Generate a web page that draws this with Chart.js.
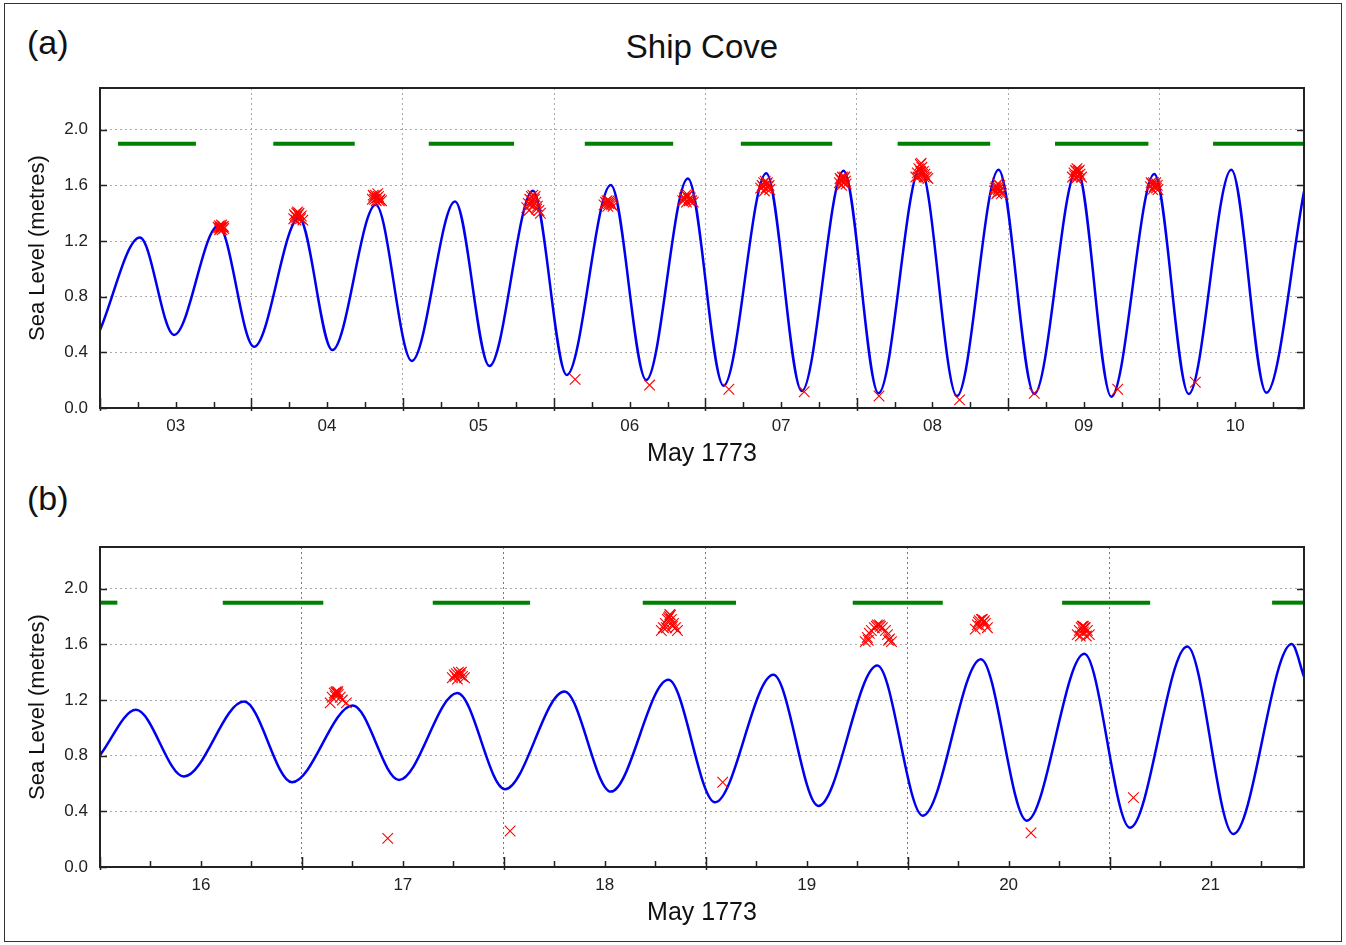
<!DOCTYPE html>
<html>
<head>
<meta charset="UTF-8">
<title>Ship Cove - sea level, May 1773</title>
<script src="https://cdn.jsdelivr.net/npm/chart.js"></script>
<style>
  body { margin: 0; background: #fff; font-family: "Liberation Sans", Arial, sans-serif; color: #111; }
  #page { position: relative; width: 1346px; height: 945px; overflow: hidden; }
  #border { position: absolute; left: 4px; top: 3px; width: 1338px; height: 939px; border: 1.5px solid #333; box-sizing: border-box; }
  .panel { position: absolute; left: 0; }
  .tag { position: absolute; left: 27px; font-size: 34px; line-height: 34px; }
  #title { position: absolute; left: 100px; width: 1204px; top: 30px; text-align: center; font-size: 33px; line-height: 33px; }
</style>
</head>
<body>
<div id="page">
  <div id="border"></div>
  <div class="tag" style="top:25px">(a)</div>
  <div id="title">Ship Cove</div>
  <canvas id="chartA" class="panel" width="1346" height="470" style="top:0"></canvas>
  <div class="tag" style="top:481px">(b)</div>
  <canvas id="chartB" class="panel" width="1346" height="470" style="top:459px"></canvas>
</div>

<script>
// --- panel (a): 3-10 May 1773 (x in days of May) ---
const dayLabelsA = ['03', '04', '05', '06', '07', '08', '09', '10'];
const rangeA = [3.0, 10.955];

// predicted tide: highs and lows
const tideA = [
  [3.000, 0.56], [3.264, 1.225], [3.489, 0.525], [3.782, 1.31], [4.018, 0.44],
  [4.315, 1.365], [4.535, 0.417], [4.822, 1.46], [5.060, 0.338], [5.346, 1.484],
  [5.573, 0.302], [5.860, 1.561], [6.084, 0.237], [6.375, 1.602], [6.609, 0.201],
  [6.884, 1.650], [7.120, 0.160], [7.402, 1.688], [7.637, 0.122], [7.913, 1.705],
  [8.144, 0.106], [8.420, 1.725], [8.662, 0.086], [8.937, 1.712], [9.173, 0.101],
  [9.455, 1.715], [9.682, 0.081], [9.966, 1.681], [10.193, 0.101], [10.475, 1.712],
  [10.706, 0.110], [10.955, 1.556]
];

// observed heights (red crosses)
const obsA = [
  [3.780, 1.30], [3.788, 1.31], [3.795, 1.29], [3.800, 1.30], [3.806, 1.28], [3.812, 1.30], [3.818, 1.29], [3.790, 1.28],
  [3.785, 1.295], [3.803, 1.315], [3.815, 1.305], [3.796, 1.30],
  [4.280, 1.36], [4.290, 1.38], [4.300, 1.40], [4.310, 1.39], [4.320, 1.37], [4.330, 1.38], [4.340, 1.35], [4.305, 1.41], [4.295, 1.35],
  [4.285, 1.39], [4.315, 1.40], [4.325, 1.36], [4.300, 1.37],
  [4.800, 1.50], [4.810, 1.52], [4.820, 1.53], [4.830, 1.51], [4.840, 1.52], [4.850, 1.50], [4.860, 1.49], [4.825, 1.49],
  [4.805, 1.53], [4.835, 1.54], [4.845, 1.49], [4.815, 1.50],
  [5.820, 1.44], [5.830, 1.47], [5.840, 1.50], [5.850, 1.52], [5.860, 1.53], [5.870, 1.50], [5.880, 1.48], [5.890, 1.45],
  [5.900, 1.42], [5.835, 1.42], [5.865, 1.46], [5.910, 1.40], [5.845, 1.46], [5.875, 1.52], [5.855, 1.49], [5.885, 1.43],
  [6.139, 0.206],
  [6.330, 1.46], [6.340, 1.48], [6.350, 1.49], [6.360, 1.47], [6.370, 1.48], [6.380, 1.46], [6.390, 1.45], [6.355, 1.45],
  [6.345, 1.47], [6.365, 1.49], [6.375, 1.47],
  [6.631, 0.165],
  [6.850, 1.49], [6.860, 1.51], [6.870, 1.53], [6.880, 1.52], [6.890, 1.50], [6.900, 1.51], [6.910, 1.49], [6.920, 1.48], [6.875, 1.48],
  [6.865, 1.50], [6.885, 1.53], [6.895, 1.49],
  [7.155, 0.135],
  [7.365, 1.58], [7.375, 1.60], [7.385, 1.62], [7.395, 1.63], [7.405, 1.61], [7.415, 1.59], [7.425, 1.57], [7.390, 1.56], [7.400, 1.58],
  [7.380, 1.59], [7.410, 1.62], [7.420, 1.60],
  [7.653, 0.117],
  [7.885, 1.62], [7.895, 1.64], [7.905, 1.66], [7.915, 1.65], [7.925, 1.63], [7.930, 1.61], [7.900, 1.60], [7.910, 1.62],
  [7.890, 1.65], [7.920, 1.66], [7.905, 1.63],
  [8.147, 0.086],
  [8.390, 1.66], [8.400, 1.69], [8.410, 1.72], [8.420, 1.75], [8.425, 1.76], [8.430, 1.73], [8.440, 1.70], [8.450, 1.68],
  [8.460, 1.66], [8.470, 1.65], [8.415, 1.67], [8.405, 1.66], [8.435, 1.68], [8.445, 1.66], [8.422, 1.70],
  [8.679, 0.058],
  [8.910, 1.56], [8.920, 1.59], [8.930, 1.61], [8.940, 1.58], [8.950, 1.56], [8.955, 1.54], [8.925, 1.54], [8.935, 1.57],
  [8.915, 1.58], [8.945, 1.60], [8.930, 1.55],
  [9.173, 0.106],
  [9.425, 1.66], [9.435, 1.69], [9.445, 1.71], [9.455, 1.72], [9.465, 1.70], [9.475, 1.68], [9.485, 1.66], [9.450, 1.65], [9.460, 1.67],
  [9.440, 1.67], [9.470, 1.71], [9.450, 1.70],
  [9.724, 0.135],
  [9.940, 1.59], [9.950, 1.61], [9.960, 1.62], [9.970, 1.60], [9.980, 1.58], [9.990, 1.57], [9.955, 1.57], [9.965, 1.59],
  [9.945, 1.62], [9.975, 1.62], [9.985, 1.60],
  [10.237, 0.185]
];

// green bars: start / end of each interval
const barsA = [
  [3.119, 3.634], [4.145, 4.683], [5.172, 5.736], [6.203, 6.787],
  [7.234, 7.838], [8.270, 8.882], [9.310, 9.927], [10.354, 10.955]
];

// --- panel (b): 16-21 May 1773 ---
const dayLabelsB = ['16', '17', '18', '19', '20', '21'];
const rangeB = [16.0, 21.963];

const tideB = [
  [16.000, 0.804], [16.178, 1.13], [16.416, 0.65], [16.713, 1.189], [16.951, 0.609],
  [17.252, 1.16], [17.481, 0.626], [17.770, 1.25], [18.006, 0.559], [18.300, 1.261],
  [18.530, 0.542], [18.815, 1.345], [19.046, 0.465], [19.335, 1.381], [19.558, 0.439],
  [19.850, 1.448], [20.075, 0.369], [20.363, 1.494], [20.590, 0.333], [20.875, 1.532],
  [21.101, 0.283], [21.385, 1.585], [21.613, 0.237], [21.902, 1.602], [21.963, 1.369]
];

const obsB = [
  [17.140, 1.18], [17.150, 1.22], [17.160, 1.25], [17.170, 1.26], [17.175, 1.25], [17.180, 1.24], [17.190, 1.22], [17.220, 1.18], [17.165, 1.23],
  [17.168, 1.255], [17.178, 1.26], [17.200, 1.20],
  [17.425, 0.206],
  [17.745, 1.36], [17.755, 1.38], [17.765, 1.39], [17.775, 1.40], [17.785, 1.38], [17.795, 1.37], [17.805, 1.36], [17.770, 1.35],
  [17.760, 1.37], [17.780, 1.39], [17.790, 1.40],
  [18.031, 0.259],
  [18.780, 1.70], [18.790, 1.72], [18.800, 1.75], [18.810, 1.78], [18.820, 1.80], [18.825, 1.81], [18.830, 1.78], [18.840, 1.75],
  [18.850, 1.72], [18.860, 1.70], [18.815, 1.79], [18.822, 1.815], [18.835, 1.73], [18.805, 1.72],
  [19.084, 0.609],
  [19.790, 1.62], [19.800, 1.65], [19.810, 1.68], [19.820, 1.70], [19.835, 1.72], [19.850, 1.74], [19.860, 1.74], [19.875, 1.72],
  [19.890, 1.70], [19.900, 1.67], [19.910, 1.64], [19.920, 1.62], [19.845, 1.73], [19.865, 1.73], [19.805, 1.63], [19.905, 1.63],
  [20.335, 1.71], [20.345, 1.74], [20.355, 1.77], [20.365, 1.78], [20.375, 1.76], [20.385, 1.75], [20.395, 1.72], [20.360, 1.73],
  [20.350, 1.76], [20.370, 1.78], [20.380, 1.77],
  [20.611, 0.245],
  [20.840, 1.67], [20.850, 1.70], [20.860, 1.72], [20.870, 1.73], [20.880, 1.72], [20.890, 1.70], [20.900, 1.67], [20.855, 1.66], [20.885, 1.66],
  [20.865, 1.73], [20.875, 1.72], [20.870, 1.69],
  [21.118, 0.499]
];

const barsB = [
  [16.000, 16.086], [16.608, 17.106], [17.648, 18.130], [18.688, 19.150],
  [19.728, 20.174], [20.765, 21.201], [21.805, 21.963]
];

const barLevel = 1.9;
const levelTicks = [0.0, 0.4, 0.8, 1.2, 1.6, 2.0];
const levelMax = 2.3;

const FONT = '"Liberation Sans", Arial, sans-serif';

// box round the plot, inward tick marks (6 h minor, midnight major)
const framePlugin = {
  id: 'framePlugin',
  afterDraw(chart) {
    const { ctx, chartArea: a, scales: { x, y } } = chart;
    ctx.save();
    ctx.strokeStyle = '#222';
    ctx.lineWidth = 1.5;
    ctx.beginPath();
    for (let v = Math.ceil(x.min * 4) / 4; v <= x.max; v += 0.25) {
      const px = Math.round(x.getPixelForValue(v)) + 0.5;
      const major = Number.isInteger(v);
      ctx.moveTo(px, a.bottom + (major ? 3 : 0));
      ctx.lineTo(px, a.bottom - (major ? 10 : 6));
    }
    y.ticks.forEach(t => {
      const py = Math.round(y.getPixelForValue(t.value)) + 0.5;
      ctx.moveTo(a.left, py); ctx.lineTo(a.left + 7, py);
      ctx.moveTo(a.right, py); ctx.lineTo(a.right - 7, py);
    });
    ctx.stroke();
    ctx.lineWidth = 2;
    ctx.strokeRect(a.left, a.top, a.right - a.left, a.bottom - a.top);
    ctx.restore();
  }
};

function makePanel(id, dayLabels, range, tide, obs, bars, vGridColor) {
  const firstDay = Math.floor(range[0]);
  const toXY = p => ({ x: p[0], y: p[1] });

  const datasets = [
    {
      label: 'observed',
      data: obs.map(toXY),
      showLine: false,
      pointStyle: 'crossRot',
      pointRadius: 7.5,
      pointHoverRadius: 7.5,
      borderColor: '#ff0000',
      borderWidth: 1.1,
      order: 0
    },
    {
      label: 'predicted',
      data: tide.map(toXY),
      showLine: true,
      cubicInterpolationMode: 'monotone',
      borderColor: '#0000f0',
      borderWidth: 2.5,
      pointRadius: 0,
      order: 1
    }
  ];
  bars.forEach(b => datasets.push({
    label: 'bar',
    data: [{ x: b[0], y: barLevel }, { x: b[1], y: barLevel }],
    showLine: true,
    borderColor: '#008000',
    borderWidth: 4,
    pointRadius: 0,
    order: 2
  }));

  return new Chart(document.getElementById(id), {
    type: 'scatter',
    data: { datasets },
    plugins: [framePlugin],
    options: {
      responsive: false,
      animation: false,
      events: [],
      layout: { padding: { left: 0, right: 42, top: 88, bottom: 0 } },
      plugins: { legend: { display: false }, tooltip: { enabled: false }, title: { display: false } },
      scales: {
        x: {
          type: 'linear',
          min: range[0],
          max: range[1],
          afterFit: s => { s.height = 62; },
          afterBuildTicks: s => {
            const t = [];
            dayLabels.forEach((_, i) => {
              t.push({ value: firstDay + i });
              t.push({ value: firstDay + i + 0.5 });
            });
            s.ticks = t.filter(k => k.value <= range[1]);
          },
          ticks: {
            autoSkip: false,
            maxRotation: 0,
            padding: 8,
            color: '#222',
            font: { family: FONT, size: 17 },
            callback: v => Number.isInteger(v) ? '' : dayLabels[Math.floor(v) - firstDay]
          },
          grid: {
            drawTicks: false,
            lineWidth: 1,
            color: c => (c.tick && Number.isInteger(c.tick.value)) ? vGridColor : 'rgba(0,0,0,0)'
          },
          border: { display: false, dash: [2, 3] },
          title: {
            display: true,
            text: 'May 1773',
            color: '#111',
            font: { family: FONT, size: 25 },
            padding: { top: 0, bottom: 1 }
          }
        },
        y: {
          type: 'linear',
          min: 0,
          max: levelMax,
          afterFit: s => { s.width = 100; },
          afterBuildTicks: s => { s.ticks = levelTicks.map(v => ({ value: v })); },
          ticks: {
            padding: 12,
            color: '#222',
            font: { family: FONT, size: 17 },
            callback: v => v.toFixed(1)
          },
          grid: { drawTicks: false, color: '#aaa', lineWidth: 1 },
          border: { display: false, dash: [2, 3] },
          title: {
            display: true,
            text: 'Sea Level (metres)',
            color: '#111',
            font: { family: FONT, size: 22 },
            padding: { top: 25, bottom: 0 }
          }
        }
      }
    }
  });
}

makePanel('chartA', dayLabelsA, rangeA, tideA, obsA, barsA, '#aaa');
makePanel('chartB', dayLabelsB, rangeB, tideB, obsB, barsB, '#777');
</script>
</body>
</html>
